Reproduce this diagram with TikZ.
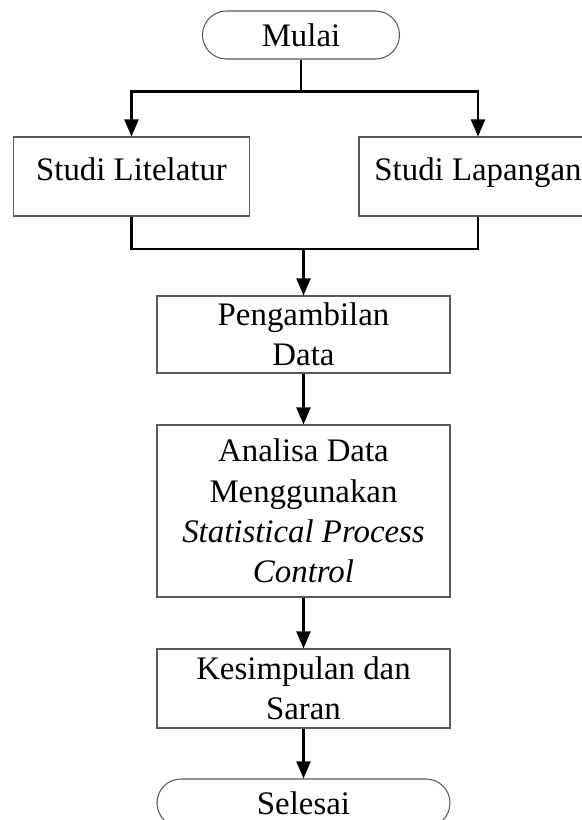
\documentclass[tikz,border=0pt]{standalone}
\usepackage{fontspec}
\setmainfont{Liberation Serif}
\usepackage{tikz}
\usetikzlibrary{shapes.geometric, arrows.meta, positioning, calc}
\tikzset{
  terminal/.style={rectangle, draw=black!65, line width=0.6pt, rounded corners=4.8mm, minimum width=3.94cm, minimum height=9.6mm, inner sep=0pt, align=center},
  process/.style={rectangle, draw=black!65, line width=0.6pt, minimum width=5.86cm, inner sep=0pt, align=center},
  studybox/.style={rectangle, draw=black!65, line width=0.6pt, minimum width=4.72cm, minimum height=1.58cm, inner sep=0pt, text height=0.68em, text depth=0.22em},
  line/.style={line width=1.2pt, black},
  arrow/.style={-{Triangle[length=3.4mm, width=2.8mm]}, line width=1.2pt, black},
}

\begin{document}
\begin{tikzpicture}[font=\fontsize{18.7}{23}\selectfont]
  \clip (0,0) rectangle (11.64,-16.4);

  % Start
  \node[terminal] (mulai) at (6.02,-0.70) {Mulai};

  % Studies
  \node[studybox] (lit) at (2.63,-3.53) {Studi Litelatur};
  \node[studybox, minimum width=4.76cm] (lap) at (9.56,-3.53) {Studi Lapangan};

  \coordinate (split) at (6.02,-1.83);
  \draw[line] (mulai) -- (split);
  \draw[arrow] (split) -| (lit);
  \draw[arrow] (split) -| (lap);

  % Main process
  \node[process, minimum height=1.54cm] (ambil) at (6.07,-6.69) {Pengambilan\\Data};
  \node[process, minimum height=3.44cm] (analisa) at (6.07,-10.22) {Analisa Data\\Menggunakan\\\textit{Statistical Process}\\\textit{Control}};
  \node[process, minimum height=1.58cm] (simpul) at (6.07,-13.77) {Kesimpulan dan\\Saran};

  \coordinate (join) at (6.07,-4.98);
  \draw[line] (lit) |- (join);
  \draw[line] (lap) |- (join);
  \draw[arrow] (join) -- (ambil);

  \draw[arrow] (ambil) -- (analisa);
  \draw[arrow] (analisa) -- (simpul);

  % End
  \node[terminal, minimum width=5.86cm] (selesai) at (6.07,-16.06) {Selesai};
  \draw[arrow] (simpul) -- (selesai);
\end{tikzpicture}
\end{document}
